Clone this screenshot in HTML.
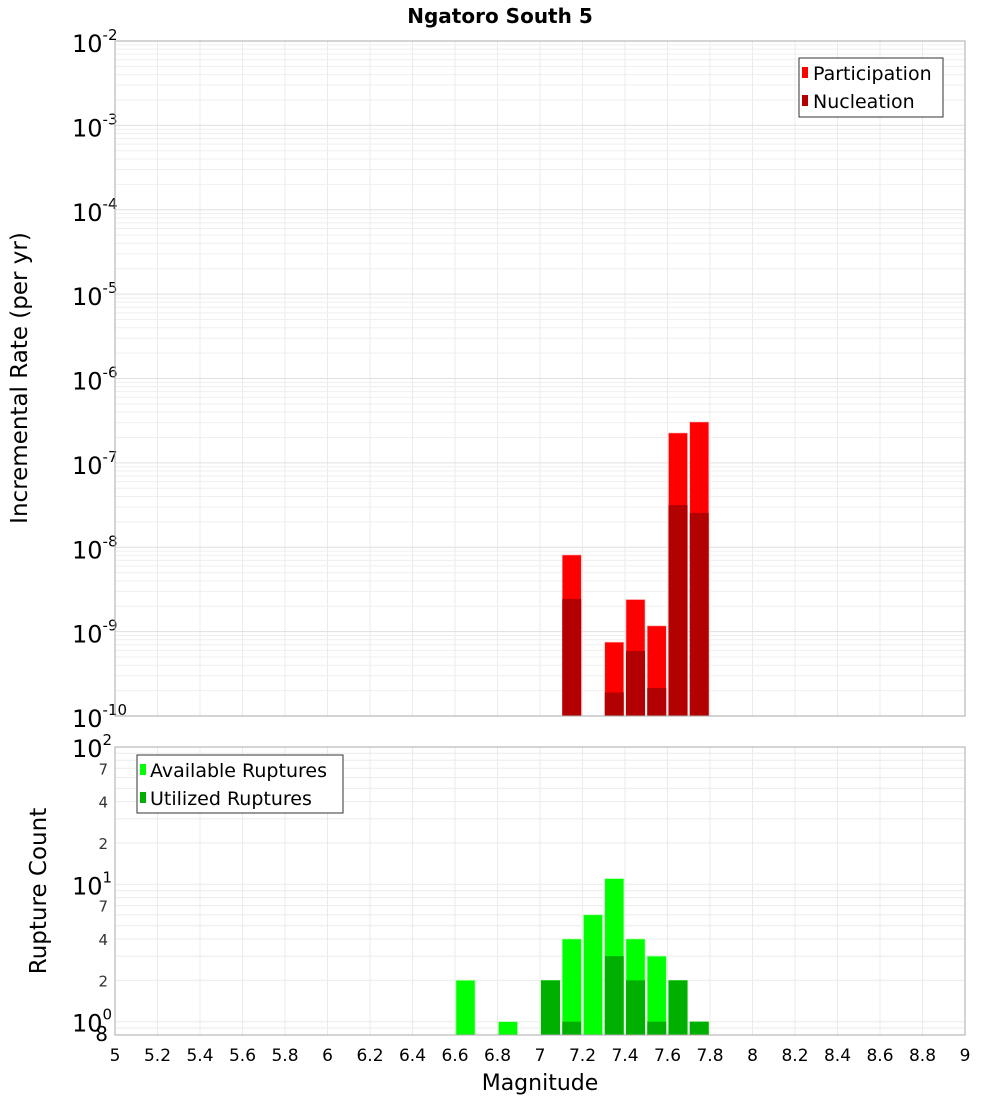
<!DOCTYPE html>
<html><head><meta charset="utf-8"><style>
body{margin:0;background:#fff;}
svg{display:block;font-family:"DejaVu Sans","Liberation Sans",sans-serif;}
</style></head><body>
<svg id="chart" width="1000" height="1100" xmlns="http://www.w3.org/2000/svg">
<text x="500" y="23" text-anchor="middle" font-size="20" font-weight="bold">Ngatoro South 5</text>
<g id="topPlot"></g>
<g id="botPlot"></g>
<text transform="translate(27,378) rotate(-90)" text-anchor="middle" font-size="23">Incremental Rate (per yr)</text>
<text transform="translate(46,891) rotate(-90)" text-anchor="middle" font-size="23">Rupture Count</text>
<text x="540" y="1090" text-anchor="middle" font-size="22">Magnitude</text>
<g>
<rect x="799" y="58" width="144" height="59" fill="#fff" stroke="#333" stroke-width="1"/>
<rect x="802" y="67" width="6" height="11" fill="#ff0000"/>
<text x="813" y="80" font-size="19">Participation</text>
<rect x="802" y="95" width="6" height="11" fill="#b30000"/>
<text x="813" y="108" font-size="19">Nucleation</text>
</g>
<g>
<rect x="137" y="755" width="206" height="58" fill="#fff" stroke="#333" stroke-width="1"/>
<rect x="140" y="764" width="6" height="11" fill="#00ff00"/>
<text x="150" y="777" font-size="19">Available Ruptures</text>
<rect x="140" y="792" width="6" height="11" fill="#00b000"/>
<text x="150" y="805" font-size="19">Utilized Ruptures</text>
</g>
</svg>
<script>
const mags=[6.6,6.8,7.0,7.1,7.2,7.3,7.4,7.5,7.6,7.7];
const participation=[0,0,0,8.1e-9,0,7.5e-10,2.4e-9,1.17e-9,2.26e-7,3.05e-7];
const nucleation=[0,0,0,2.44e-9,0,1.9e-10,5.9e-10,2.15e-10,3.16e-8,2.55e-8];
const available=[2,1,2,4,6,11,4,3,2,1];
const utilized=[0,0,2,1,0,3,2,1,2,1];
const xTicks=[5,5.2,5.4,5.6,5.8,6,6.2,6.4,6.6,6.8,7,7.2,7.4,7.6,7.8,8,8.2,8.4,8.6,8.8,9];
const rateDecades=[-2,-3,-4,-5,-6,-7,-8,-9,-10];
const countMinorLabels=[2,4,7,20,40,70];
const NS="http://www.w3.org/2000/svg";
const X0=115,X1=965;
function x(m){return X0+(m-5)/4*(X1-X0);}
const T0=41,T1=716;
function yTop(v){return T0+(-2-Math.log10(v))/8*(T1-T0);}
const B0=747,B1=1035,BMIN=0.8,BMAX=100;
function yBot(v){return B1-(Math.log10(v)-Math.log10(BMIN))/(Math.log10(BMAX)-Math.log10(BMIN))*(B1-B0);}
function el(tag,attrs,parent,text){const e=document.createElementNS(NS,tag);for(const k in attrs)e.setAttribute(k,attrs[k]);if(text!==undefined)e.textContent=text;parent.appendChild(e);return e;}
const gTop=document.getElementById('topPlot'),gBot=document.getElementById('botPlot');
function frame(g,y0,y1){
  xTicks.forEach(t=>{const l=el('line',{x1:x(t),x2:x(t),y1:y0,y2:y1,stroke:'#ebebeb'},g);
  
  });
}
frame(gTop,T0,T1);
for(let d=-10;d<-2;d++){for(let k=1;k<10;k++){const v=k*Math.pow(10,d);const yy=yTop(v);
  const l=el('line',{x1:X0,x2:X1,y1:yy,y2:yy,stroke:k==1?'#e0e0e0':'#efefef'},gTop);
  
  }}
rateDecades.forEach(d=>{const yy=yTop(Math.pow(10,d));
  const t=el('text',{x:72,y:yy+11,'font-size':24},gTop);
  
  
  el('tspan',{},t,'10');el('tspan',{dy:-12,'font-size':15},t,String(d));});
mags.forEach((m,i)=>{
  if(participation[i]>0){const yy=yTop(participation[i]);
    const r=el('rect',{x:x(m)+1,y:yy,width:19,height:T1-yy,fill:'#ff0000',stroke:'#ffb0b0','stroke-width':0.6},gTop);
    
    }
  if(nucleation[i]>0){const yy=yTop(nucleation[i]);
    const r=el('rect',{x:x(m)+1,y:yy,width:19,height:T1-yy,fill:'#b30000'},gTop);
    
    }
});
el('rect',{x:X0,y:T0,width:X1-X0,height:T1-T0,fill:'none',stroke:'#aaa'},gTop);
frame(gBot,B0,B1);
[0.8,0.9,1,2,3,4,5,6,7,8,9,10,20,30,40,50,60,70,80,90,100].forEach(v=>{const yy=yBot(v);
  const l=el('line',{x1:X0,x2:X1,y1:yy,y2:yy,stroke:'#ebebeb'},gBot);
  
  });
[0,1,2].forEach(d=>{const yy=yBot(Math.pow(10,d));
  const t=el('text',{x:72,y:yy+10,'font-size':24},gBot);
  
  
  el('tspan',{},t,'10');el('tspan',{dy:-12,'font-size':15},t,String(d));});
countMinorLabels.concat([0.8]).forEach(v=>{const yy=yBot(v);const lab=v>=10?String(v/10):(v<1?'8':String(v));
  const t=el('text',{x:108,y:yy+6,'text-anchor':'end','font-size':v<1?20:15,fill:v<1?'#000':'#333'},gBot,lab);
  
  });
mags.forEach((m,i)=>{
  if(available[i]>0){const yy=yBot(available[i]);
    const r=el('rect',{x:x(m)+1,y:yy,width:19,height:B1-yy,fill:'#00ff00',stroke:'#a0ffa0','stroke-width':0.6},gBot);
    
    }
  if(utilized[i]>0){const yy=yBot(utilized[i]);
    const r=el('rect',{x:x(m)+1,y:yy,width:19,height:B1-yy,fill:'#00b000'},gBot);
    
    }
});
el('rect',{x:X0,y:B0,width:X1-X0,height:B1-B0,fill:'none',stroke:'#aaa'},gBot);
xTicks.forEach(t=>{const tx=el('text',{x:x(t),y:1061,'text-anchor':'middle','font-size':17},gBot,String(t));
  
  });
</script>
</body></html>
